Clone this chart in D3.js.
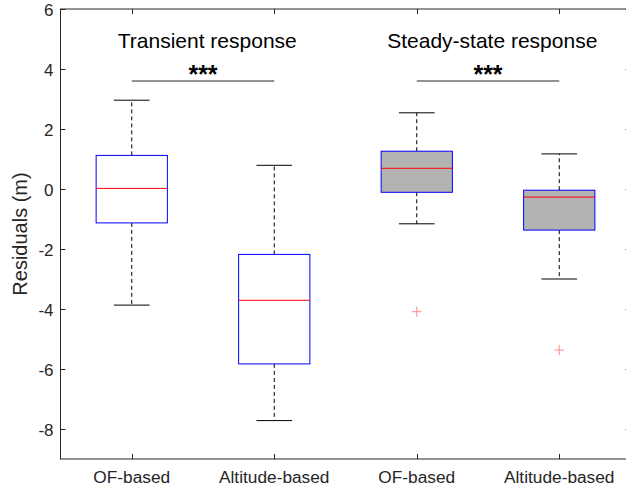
<!DOCTYPE html>
<html><head><meta charset="utf-8">
<script src="https://cdn.jsdelivr.net/npm/d3@7"></script>
<style>body{margin:0;background:#fff}svg{display:block}text{font-family:"Liberation Sans",Arial,sans-serif}</style>
</head><body><svg id="c" width="626" height="493"></svg>
<script>
const categories = ["OF-based","Altitude-based","OF-based","Altitude-based"];
const q1      = [-1.13, -5.83, -0.11, -1.37];
const medians = [ 0.02, -3.71,  0.69, -0.27];
const q3      = [ 1.12, -2.18,  1.26, -0.04];
const lowerW  = [-3.87, -7.72, -1.16, -3.00];
const upperW  = [ 2.96,  0.79,  2.54,  1.17];
const filled  = [false, false, true, true];
const outliers = [[], [], [-4.09], [-5.37]];
const yTicks = [-8,-6,-4,-2,0,2,4,6];
const groupTitles = ["Transient response","Steady-state response"];
const titlePos = [1.53, 3.53];
const sigPairs = [[1,2],[3,4]];
const sigLabel = "***";
const sigLevel = 3.6;

const svg = d3.select("#c");
const x = d3.scaleLinear().domain([0.5,4.5]).range([60.5,630.5]);
const y = d3.scaleLinear().domain([-9,6]).range([459,9]);
const axCol = "#262626";
const bw = 0.25, cw = 0.125;

const L=x(0.5), R=x(4.5), T=y(6), B=y(-9);
svg.append("rect").attr("x",L).attr("y",T).attr("width",R-L).attr("height",B-T)
  .attr("fill","none").attr("stroke",axCol).attr("stroke-width",1);

const gy = svg.append("g");
yTicks.forEach(t=>{
  const yy = Math.round(y(t))+0.5;
  gy.append("line").attr("x1",L).attr("x2",L+5).attr("y1",yy).attr("y2",yy).attr("stroke",axCol);
  gy.append("line").attr("x1",R-5).attr("x2",R).attr("y1",yy).attr("y2",yy).attr("stroke",axCol);
  gy.append("text").attr("x",L-7).attr("y",yy).attr("dy","0.36em").attr("text-anchor","end")
    .attr("font-size",17).attr("fill",axCol).text(t);
});
categories.forEach((c,i)=>{
  const xx = Math.round(x(i+1))+0.5;
  svg.append("line").attr("x1",xx).attr("x2",xx).attr("y1",B).attr("y2",B-5).attr("stroke",axCol);
  svg.append("line").attr("x1",xx).attr("x2",xx).attr("y1",T).attr("y2",T+5).attr("stroke",axCol);
  svg.append("text").attr("x",x(i+1)).attr("y",483).attr("text-anchor","middle")
    .attr("font-size",17.3).attr("fill",axCol).text(c);
});
svg.append("text").attr("transform",`translate(27,${(T+B)/2}) rotate(-90)`)
  .attr("text-anchor","middle").attr("font-size",20).attr("fill",axCol).text("Residuals (m)");

categories.forEach((c,i)=>{
  const p=i+1, g=svg.append("g");
  g.append("line").attr("x1",x(p)).attr("x2",x(p)).attr("y1",y(q3[i])).attr("y2",y(upperW[i]))
    .attr("stroke","#000").attr("stroke-dasharray","4,3");
  g.append("line").attr("x1",x(p)).attr("x2",x(p)).attr("y1",y(q1[i])).attr("y2",y(lowerW[i]))
    .attr("stroke","#000").attr("stroke-dasharray","4,3");
  [upperW[i],lowerW[i]].forEach(v=>{
    g.append("line").attr("x1",x(p-cw)).attr("x2",x(p+cw)).attr("y1",y(v)).attr("y2",y(v)).attr("stroke","#000");
  });
  g.append("rect").attr("x",x(p-bw)).attr("y",y(q3[i])).attr("width",x(p+bw)-x(p-bw))
    .attr("height",y(q1[i])-y(q3[i])).attr("fill",filled[i]?"#b3b3b3":"none")
    .attr("stroke","#0000ff").attr("stroke-width",1);
  g.append("line").attr("x1",x(p-bw)).attr("x2",x(p+bw)).attr("y1",y(medians[i])).attr("y2",y(medians[i]))
    .attr("stroke","#ff0000");
  outliers[i].forEach(v=>{
    g.append("path").attr("d",`M${x(p)-5},${y(v)}h10M${x(p)},${y(v)-5}v10`)
      .attr("stroke","#ff8c8c").attr("fill","none");
  });
});

sigPairs.forEach((pr,k)=>{
  svg.append("line").attr("x1",x(pr[0])).attr("x2",x(pr[1])).attr("y1",y(sigLevel)).attr("y2",y(sigLevel))
    .attr("stroke",axCol);
  svg.append("text").attr("x",(x(pr[0])+x(pr[1]))/2).attr("y",y(sigLevel)+1.5).attr("text-anchor","middle")
    .attr("font-size",25).attr("font-weight","bold").attr("fill","#000").text(sigLabel);
  svg.append("text").attr("x",x(titlePos[k])).attr("y",48).attr("text-anchor","middle")
    .attr("font-size",21).attr("fill","#000").text(groupTitles[k]);
});
</script></body></html>
